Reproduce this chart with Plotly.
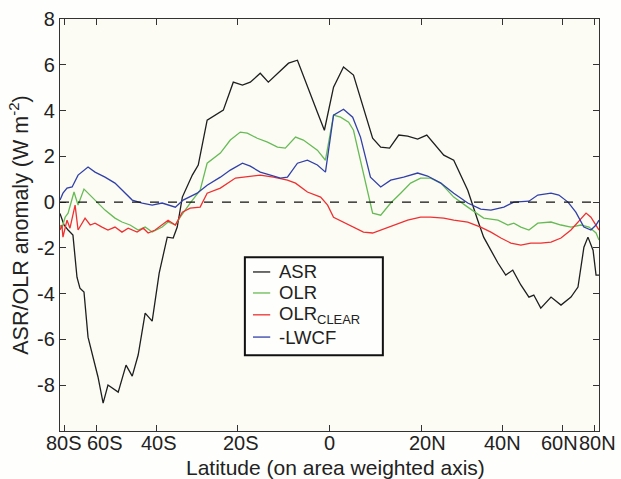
import numpy as np
import plotly.graph_objects as go

# x values are on an area-weighted axis: sin(latitude)
asr_x = [-1.0, -0.985, -0.970, -0.952, -0.937, -0.926, -0.911, -0.896, -0.859, -0.840,
         -0.822, -0.784, -0.755, -0.732, -0.710, -0.684, -0.658, -0.632, -0.602, -0.580,
         -0.565, -0.546, -0.509, -0.487, -0.454, -0.394, -0.357, -0.323, -0.294, -0.257,
         -0.227, -0.152, -0.119, -0.097, -0.045, -0.019, 0.015, 0.052, 0.089, 0.160,
         0.190, 0.223, 0.257, 0.290, 0.327, 0.361, 0.424, 0.461, 0.513, 0.550,
         0.572, 0.625, 0.654, 0.680, 0.710, 0.740, 0.758, 0.784, 0.822, 0.859,
         0.896, 0.922, 0.944, 0.959, 0.978, 0.989, 1.0]
asr_y = [-0.5, -1.0, -1.22, -1.44, -3.28, -3.76, -3.93, -5.90, -7.64, -8.78,
         -7.99, -8.30, -7.12, -7.60, -6.68, -4.85, -5.20, -3.10, -1.53, -1.57,
         -1.09, 0.22, 1.18, 1.62, 3.58, 4.02, 5.24, 5.11, 5.24, 5.63,
         5.24, 6.07, 6.20, 5.55, 3.93, 3.14, 5.02, 5.90, 5.55, 2.79,
         2.40, 2.36, 2.93, 2.88, 2.75, 2.93, 2.05, 1.83, 0.52, -0.79,
         -1.53, -2.66, -3.19, -2.97, -3.62, -4.15, -4.06, -4.63, -4.15, -4.50,
         -4.15, -3.71, -1.97, -1.53, -2.10, -3.19, -3.19]

olr_x = [-1.0, -0.993, -0.981, -0.970, -0.948, -0.933, -0.911, -0.881, -0.859, -0.833,
         -0.796, -0.770, -0.740, -0.710, -0.684, -0.658, -0.621, -0.599, -0.572, -0.554,
         -0.517, -0.480, -0.454, -0.405, -0.368, -0.331, -0.305, -0.268, -0.230, -0.193,
         -0.164, -0.126, -0.097, -0.045, -0.015, 0.015, 0.041, 0.071, 0.089, 0.115,
         0.141, 0.160, 0.190, 0.227, 0.264, 0.301, 0.338, 0.375, 0.413, 0.461,
         0.513, 0.572, 0.625, 0.662, 0.684, 0.710, 0.740, 0.773, 0.822, 0.859,
         0.896, 0.933, 0.963, 0.989, 1.0]
olr_y = [-1.0, -1.14, -0.66, -0.48, 0.44, -0.13, 0.57, 0.22, -0.04, -0.35,
         -0.70, -0.87, -1.0, -1.22, -1.09, -1.31, -1.09, -0.87, -1.0, -0.66,
         -0.04, 0.52, 1.70, 2.14, 2.71, 3.06, 3.01, 2.79, 2.62, 2.40,
         2.36, 2.84, 2.71, 2.27, 1.83, 3.80, 3.71, 3.49, 3.14, 1.83,
         0.52, -0.48, -0.57, -0.04, 0.39, 0.83, 1.05, 1.05, 0.83, 0.22,
         -0.22, -0.70, -0.79, -1.0, -0.92, -1.09, -1.22, -0.92, -0.87, -1.0,
         -1.09, -1.0, -1.09, -1.35, -1.66]

clr_x = [-1.0, -0.993, -0.989, -0.974, -0.963, -0.944, -0.933, -0.907, -0.888, -0.870,
         -0.844, -0.822, -0.796, -0.770, -0.747, -0.714, -0.691, -0.673, -0.647, -0.621,
         -0.599, -0.572, -0.546, -0.517, -0.480, -0.454, -0.405, -0.349, -0.294, -0.257,
         -0.208, -0.156, -0.126, -0.082, -0.033, -0.007, 0.015, 0.052, 0.089, 0.126,
         0.160, 0.190, 0.238, 0.290, 0.338, 0.375, 0.424, 0.461, 0.513, 0.561,
         0.599, 0.636, 0.673, 0.710, 0.747, 0.784, 0.822, 0.859, 0.896, 0.922,
         0.952, 0.970, 0.989, 1.0]
clr_y = [-1.22, -1.0, -1.53, -0.79, -1.14, -0.13, -1.22, -0.70, -1.0, -0.92,
         -1.09, -1.22, -1.09, -1.31, -1.14, -1.31, -1.14, -1.35, -1.22, -1.0,
         -0.79, -1.0, -0.44, -0.26, -0.22, 0.39, 0.61, 1.05, 1.14, 1.18,
         1.09, 0.96, 0.83, 0.44, 0.22, -0.13, -0.66, -0.87, -1.09, -1.31,
         -1.35, -1.22, -1.0, -0.79, -0.66, -0.66, -0.70, -0.79, -0.87, -1.09,
         -1.31, -1.57, -1.79, -1.88, -1.79, -1.79, -1.75, -1.57, -1.22, -0.87,
         -0.48, -0.66, -1.0, -1.22]

lwcf_x = [-1.0, -0.989, -0.974, -0.955, -0.933, -0.896, -0.870, -0.833, -0.796, -0.758,
          -0.732, -0.695, -0.658, -0.621, -0.572, -0.543, -0.491, -0.454, -0.405, -0.368,
          -0.323, -0.294, -0.257, -0.219, -0.182, -0.156, -0.119, -0.082, -0.045, -0.015,
          0.015, 0.052, 0.086, 0.115, 0.152, 0.190, 0.227, 0.275, 0.327, 0.364,
          0.413, 0.461, 0.513, 0.561, 0.599, 0.647, 0.684, 0.740, 0.773, 0.822,
          0.851, 0.885, 0.914, 0.944, 0.970, 0.989, 1.0]
lwcf_y = [0.09, 0.39, 0.61, 0.66, 1.18, 1.53, 1.31, 1.09, 0.83, 0.39,
          0.09, -0.04, -0.13, -0.04, -0.22, 0.09, 0.39, 0.74, 1.09, 1.40,
          1.70, 1.57, 1.31, 1.18, 1.05, 1.09, 1.70, 1.83, 1.62, 1.31,
          3.80, 4.06, 3.71, 2.84, 1.09, 0.66, 0.96, 1.09, 1.27, 1.14,
          0.83, 0.39, -0.04, -0.31, -0.35, -0.22, 0.0, 0.04, 0.31, 0.39,
          0.31, 0.0, -0.44, -1.09, -1.22, -1.0, -0.79]

tick_lats = [-80, -60, -40, -20, 0, 20, 40, 60, 80]
tick_labels = ["80S", "60S", "40S", "20S", "0", "20N", "40N", "60N", "80N"]
y_ticks = [-8, -6, -4, -2, 0, 2, 4, 6, 8]

# small horizontal nudges of the x tick labels (pixels), as in the original figure
label_nudge = [0, 9, 3, 4, 0, 6, 0, -3, 3]

series = [
    ("ASR", asr_x, asr_y, "#1e1e1e"),
    ("OLR", olr_x, olr_y, "#66bb55"),
    ("OLR<sub>CLEAR</sub>", clr_x, clr_y, "#ee3030"),
    ("-LWCF", lwcf_x, lwcf_y, "#3040a8"),
]

fig = go.Figure()
for name, xs, ys, col in series:
    fig.add_trace(go.Scatter(x=xs, y=ys, mode="lines", name=name, showlegend=False,
                             line=dict(color=col, width=1.3)))

fig.add_hline(y=0, line=dict(color="#111111", width=1.2, dash="dash"))

# hand-built legend box (paper coordinates of the plot area)
leg_x0, leg_x1, leg_y0, leg_y1 = 0.343, 0.599, 0.184, 0.422
row_y = [0.386, 0.335, 0.282, 0.228]
fig.add_shape(type="rect", xref="paper", yref="paper", x0=leg_x0, x1=leg_x1, y0=leg_y0, y1=leg_y1,
              line=dict(color="#111111", width=2), fillcolor="#fefefc", layer="above")
for (name, xs, ys, col), ry in zip(series, row_y):
    fig.add_shape(type="line", xref="paper", yref="paper", x0=0.358, x1=0.390, y0=ry, y1=ry,
                  line=dict(color=col, width=1.3), layer="above")
    fig.add_annotation(xref="paper", yref="paper", x=0.402, y=ry, xanchor="left", yanchor="middle",
                       text=name, showarrow=False, font=dict(size=18.5, color="#222222"))

# x tick labels placed at the area-weighted tick positions
tick_pos = np.sin(np.radians(tick_lats))
for pos, lab, dx in zip(tick_pos, tick_labels, label_nudge):
    fig.add_annotation(x=float(pos), xref="x", y=0, yref="paper", yanchor="top", xanchor="center",
                       text=lab, showarrow=False, xshift=dx, yshift=0, borderpad=0,
                       font=dict(size=20, color="#222222"))

fig.add_annotation(x=0.5, xref="paper", y=0, yref="paper", yanchor="top", xanchor="center",
                   text="Latitude (on area weighted axis)", showarrow=False, xshift=6, yshift=-24,
                   borderpad=0, font=dict(size=21, color="#222222"))

axis_common = dict(showline=True, linecolor="#333333", linewidth=1.2, mirror="ticks",
                   ticks="inside", ticklen=6, tickcolor="#333333", showgrid=False,
                   zeroline=False, tickfont=dict(size=20, color="#222222"))

fig.update_xaxes(range=[-1, 1], tickvals=list(tick_pos), showticklabels=False, **axis_common)
fig.update_yaxes(range=[-10, 8], tickvals=y_ticks, ticktext=[str(v) for v in y_ticks],
                 title=dict(text="ASR/OLR anomaly (W m<sup>-2</sup>)", font=dict(size=21.5, color="#222222"),
                            standoff=2),
                 **axis_common)

fig.update_layout(
    width=621, height=479,
    margin=dict(l=60, r=22, t=19, b=48, autoexpand=False),
    paper_bgcolor="#fefefc", plot_bgcolor="#fcfcf5",
    font=dict(family="Liberation Sans, Arial, sans-serif", color="#222222"),
    showlegend=False,
)

fig.write_html("out.html")
